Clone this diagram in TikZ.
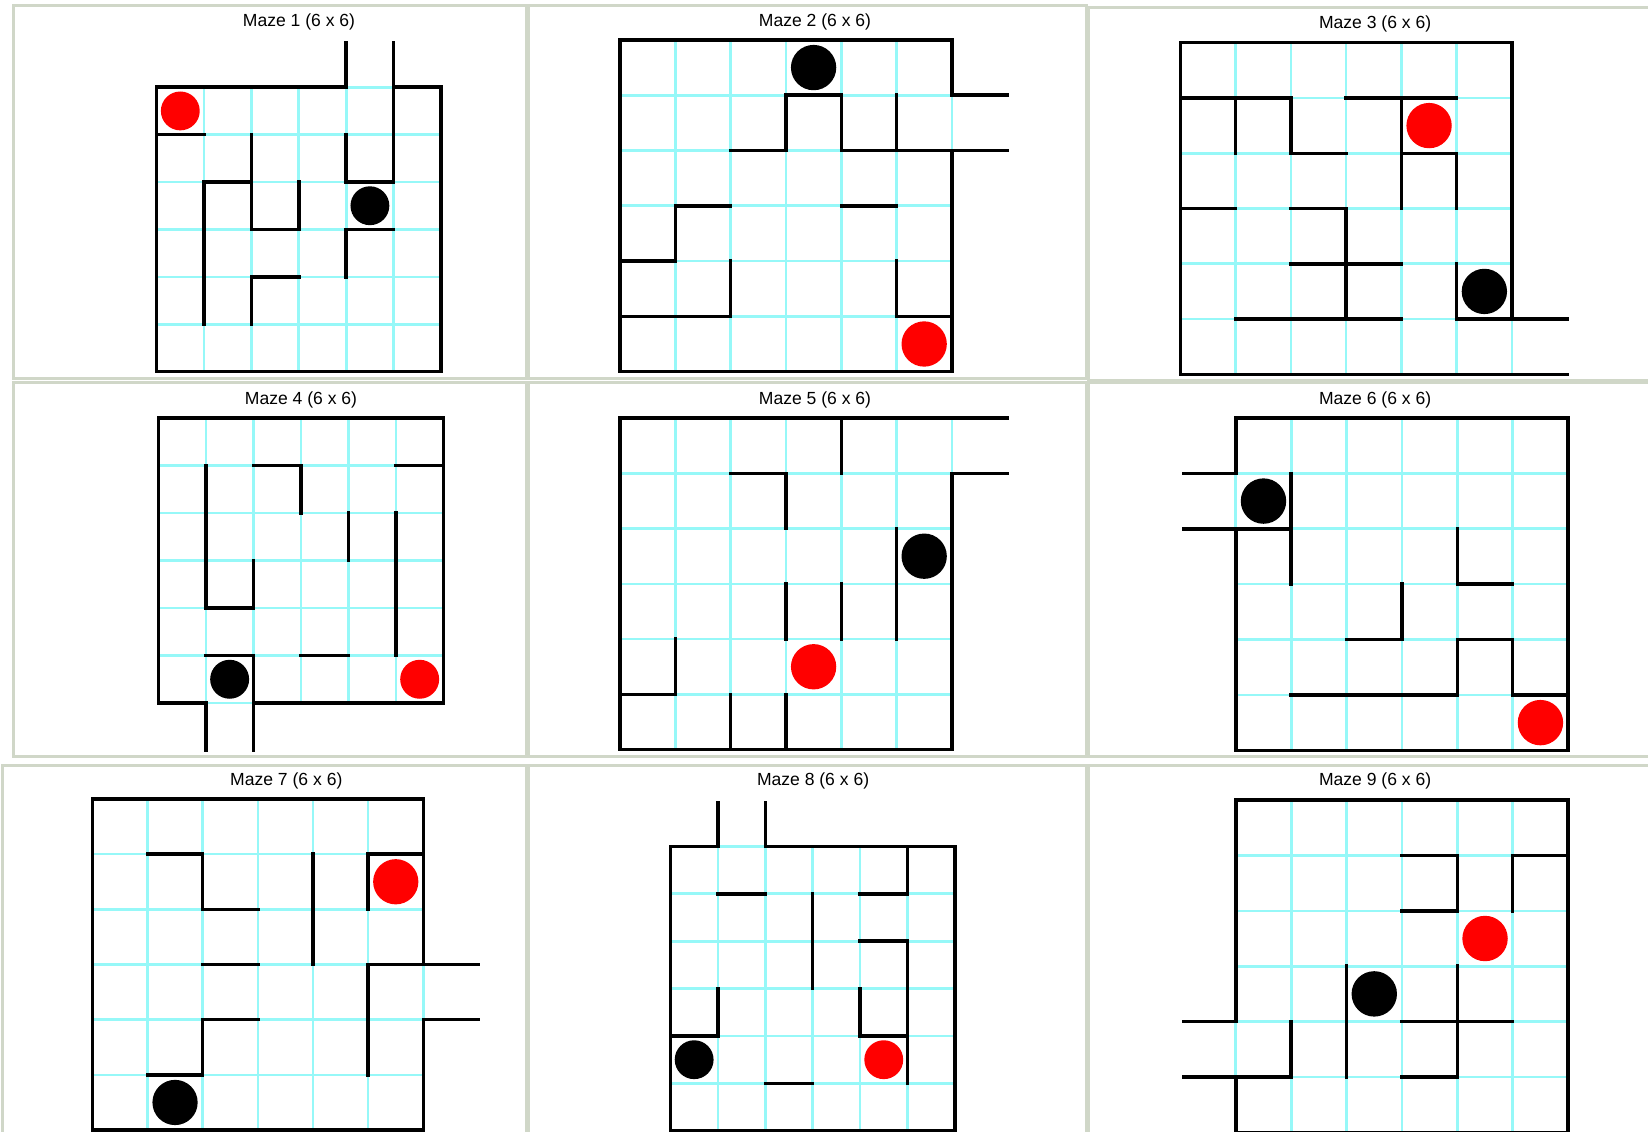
\documentclass[tikz,border=0pt]{standalone}
\usepackage{fontspec}
\setmainfont{Liberation Sans}
\definecolor{gridcyan}{RGB}{150,248,248}
\definecolor{framegray}{RGB}{208,215,200}
\newcommand{\mazegrid}{%
  \foreach \k in {0,...,6} {
    \draw[gridline] (\k,0) -- (\k,6);
    \draw[gridline] (0,\k) -- (6,\k);
  }}

\begin{document}
\begin{tikzpicture}[x=0.2mm, y=-0.2mm,
  wall/.style={draw=black, line width=0.66mm, line cap=rect},
  gridline/.style={draw=gridcyan, line width=0.5mm},
  panel/.style={draw=framegray, line width=0.6mm},
  mazetitle/.style={font=\fontsize{9.5}{11}\selectfont, inner sep=0pt},
  goal/.style={fill=red},
  ball/.style={fill=black}
]
\useasboundingbox (0,0) rectangle (1568,1077);
\fill[white] (0,0) rectangle (1568,1077);

% panels
\draw[panel] (13,5) rectangle (501,360);
\draw[panel] (503,5) rectangle (1034,360);
\draw[panel] (1036,7) rectangle (1572,362);
\draw[panel] (13,364) rectangle (501,720);
\draw[panel] (503,364) rectangle (1034,720);
\draw[panel] (1036,364) rectangle (1572,720);
\draw[panel] (2,728) rectangle (501,1082);
\draw[panel] (503,728) rectangle (1034,1082);
\draw[panel] (1036,728) rectangle (1572,1082);

\node[mazetitle] (t1) at (284.5,20.6) {Maze 1 (6 x 6)};
\node[mazetitle] (t2) at (775.4,20.6) {Maze 2 (6 x 6)};
\node[mazetitle] (t3) at (1308.4,22.8) {Maze 3 (6 x 6)};
\node[mazetitle] (t4) at (286.4,380.3) {Maze 4 (6 x 6)};
\node[mazetitle] (t5) at (775.4,380.3) {Maze 5 (6 x 6)};
\node[mazetitle] (t6) at (1308.4,380.3) {Maze 6 (6 x 6)};
\node[mazetitle] (t7) at (272.4,742.8) {Maze 7 (6 x 6)};
\node[mazetitle] (t8) at (773.6,742.8) {Maze 8 (6 x 6)};
\node[mazetitle] (t9) at (1308.4,743.4) {Maze 9 (6 x 6)};

% maze 1
\begin{scope}[shift={(149,83)}, scale=45.1]
  \mazegrid
  \draw[wall] (4,-0.93) -- (4,0) -- (0,0) -- (0,6) -- (6,6) -- (6,0) -- (5,0);
  \draw[wall] (4,1) -- (4,2) -- (5,2) -- (5,-0.93);
  \draw[wall] (0,1) -- (1,1);
  \draw[wall] (2,1) -- (2,3) -- (3,3) -- (3,2);
  \draw[wall] (1,5) -- (1,2) -- (2,2);
  \draw[wall] (4,4) -- (4,3) -- (5,3);
  \draw[wall] (2,5) -- (2,4) -- (3,4);
  \fill[goal] (0.5,0.5) circle (0.41);
  \fill[ball] (4.5,2.5) circle (0.41);
\end{scope}

% maze 2
\begin{scope}[shift={(590,38)}, scale=52.6]
  \mazegrid
  \draw[wall] (7,1) -- (6,1) -- (6,0) -- (0,0) -- (0,6) -- (6,6) -- (6,2);
  \draw[wall] (2,2) -- (3,2) -- (3,1) -- (4,1) -- (4,2) -- (7,2);
  \draw[wall] (5,1) -- (5,2);
  \draw[wall] (0,4) -- (1,4) -- (1,3) -- (2,3);
  \draw[wall] (4,3) -- (5,3);
  \draw[wall] (0,5) -- (2,5) -- (2,4);
  \draw[wall] (5,4) -- (5,5) -- (6,5);
  \fill[ball] (3.5,0.5) circle (0.41);
  \fill[goal] (5.5,5.5) circle (0.41);
\end{scope}

% maze 3
\begin{scope}[shift={(1123,40.6)}, scale=52.6]
  \mazegrid
  \draw[wall] (6,5) -- (6,0) -- (0,0) -- (0,6) -- (7,6);
  \draw[wall] (5,4) -- (5,5) -- (7,5);
  \draw[wall] (0,1) -- (2,1) -- (2,2) -- (3,2);
  \draw[wall] (1,1) -- (1,2);
  \draw[wall] (3,1) -- (5,1);
  \draw[wall] (4,1) -- (4,3);
  \draw[wall] (4,2) -- (5,2) -- (5,3);
  \draw[wall] (0,3) -- (1,3);
  \draw[wall] (2,3) -- (3,3) -- (3,5);
  \draw[wall] (2,4) -- (4,4);
  \draw[wall] (1,5) -- (4,5);
  \fill[goal] (4.5,1.5) circle (0.41);
  \fill[ball] (5.5,4.5) circle (0.41);
\end{scope}

% maze 4
\begin{scope}[shift={(150.7,397.7)}, scale=45.2]
  \mazegrid
  \draw[wall] (1,7) -- (1,6) -- (0,6) -- (0,0) -- (6,0) -- (6,6) -- (2,6);
  \draw[wall] (1,5) -- (2,5) -- (2,7);
  \draw[wall] (1,1) -- (1,4) -- (2,4) -- (2,3);
  \draw[wall] (2,1) -- (3,1) -- (3,2);
  \draw[wall] (4,2) -- (4,3);
  \draw[wall] (5,1) -- (6,1);
  \draw[wall] (5,2) -- (5,5);
  \draw[wall] (3,5) -- (4,5);
  \fill[ball] (1.5,5.5) circle (0.41);
  \fill[goal] (5.5,5.5) circle (0.41);
\end{scope}

% maze 5
\begin{scope}[shift={(590,397.7)}, scale=52.6]
  \mazegrid
  \draw[wall] (7,0) -- (0,0) -- (0,6) -- (6,6) -- (6,1) -- (7,1);
  \draw[wall] (4,0) -- (4,1);
  \draw[wall] (2,1) -- (3,1) -- (3,2);
  \draw[wall] (5,2) -- (5,4);
  \draw[wall] (3,3) -- (3,4);
  \draw[wall] (4,3) -- (4,4);
  \draw[wall] (0,5) -- (1,5) -- (1,4);
  \draw[wall] (2,5) -- (2,6);
  \draw[wall] (3,5) -- (3,6);
  \fill[ball] (5.5,2.5) circle (0.41);
  \fill[goal] (3.5,4.5) circle (0.41);
\end{scope}

% maze 6
\begin{scope}[shift={(1175.8,397.7)}, scale=52.7]
  \mazegrid
  \draw[wall] (-0.94,1) -- (0,1) -- (0,0) -- (6,0) -- (6,6) -- (0,6) -- (0,2);
  \draw[wall] (-0.94,2) -- (1,2);
  \draw[wall] (1,1) -- (1,3);
  \draw[wall] (4,2) -- (4,3) -- (5,3);
  \draw[wall] (2,4) -- (3,4) -- (3,3);
  \draw[wall] (1,5) -- (4,5) -- (4,4) -- (5,4) -- (5,5) -- (6,5);
  \fill[ball] (0.5,1.5) circle (0.41);
  \fill[goal] (5.5,5.5) circle (0.41);
\end{scope}

% maze 7
\begin{scope}[shift={(87.8,760.2)}, scale=52.5]
  \mazegrid
  \draw[wall] (6,3) -- (6,0) -- (0,0) -- (0,6) -- (6,6) -- (6,4) -- (7,4);
  \draw[wall] (1,1) -- (2,1) -- (2,2) -- (3,2);
  \draw[wall] (4,1) -- (4,3);
  \draw[wall] (5,2) -- (5,1) -- (6,1);
  \draw[wall] (2,3) -- (3,3);
  \draw[wall] (5,5) -- (5,3) -- (7,3);
  \draw[wall] (1,5) -- (2,5) -- (2,4) -- (3,4);
  \fill[goal] (5.5,1.5) circle (0.41);
  \fill[ball] (1.5,5.5) circle (0.41);
\end{scope}

% maze 8
\begin{scope}[shift={(637.9,805.3)}, scale=45.1]
  \mazegrid
  \draw[wall] (1,-0.92) -- (1,0) -- (0,0) -- (0,6) -- (6,6) -- (6,0) -- (2,0) -- (2,-0.92);
  \draw[wall] (5,0) -- (5,1) -- (4,1);
  \draw[wall] (1,1) -- (2,1);
  \draw[wall] (3,1) -- (3,3);
  \draw[wall] (4,2) -- (5,2) -- (5,5);
  \draw[wall] (4,3) -- (4,4) -- (5,4);
  \draw[wall] (1,3) -- (1,4) -- (0,4);
  \draw[wall] (2,5) -- (3,5);
  \fill[ball] (0.5,4.5) circle (0.41);
  \fill[goal] (4.5,4.5) circle (0.41);
\end{scope}

% maze 9
\begin{scope}[shift={(1175.8,761.2)}, scale=52.7]
  \mazegrid
  \draw[wall] (-0.94,4) -- (0,4) -- (0,0) -- (6,0) -- (6,6) -- (0,6) -- (0,5);
  \draw[wall] (-0.94,5) -- (1,5) -- (1,4);
  \draw[wall] (3,1) -- (4,1) -- (4,2) -- (3,2);
  \draw[wall] (6,1) -- (5,1) -- (5,2);
  \draw[wall] (2,3) -- (2,5);
  \draw[wall] (4,3) -- (4,5) -- (3,5);
  \draw[wall] (3,4) -- (5,4);
  \fill[goal] (4.5,2.5) circle (0.41);
  \fill[ball] (2.5,3.5) circle (0.41);
\end{scope}
\end{tikzpicture}
\end{document}
